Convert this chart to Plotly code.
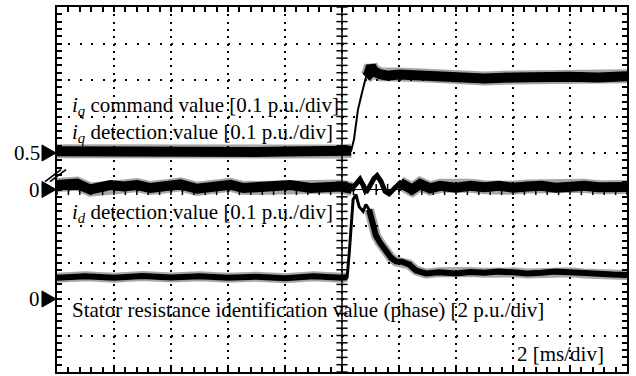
import numpy as np
import plotly.graph_objects as go

# ---------------- data (time in ms from screen centre, values in screen divisions) -------------
iq_t = [-10, -9, -8, -7, -6, -5, -4, -3, -2, -1, 0, 0.32, 0.42, 0.56, 0.67, 0.77, 0.84, 0.92,
        1.02, 1.12, 1.33, 1.6, 2, 3, 4, 5, 6, 7, 8, 9, 10]
iq_div = [1.05, 1.04, 1.06, 1.03, 1.05, 1.04, 1.05, 1.03, 1.04, 1.05, 1.04, 1.06, 1.37, 2.19,
          2.55, 2.82, 3.08, 3.14, 3.38, 3.24, 3.16, 3.12, 3.15, 3.12, 3.06, 3.04, 3.07, 3.1, 3.09,
          3.07, 3.1]

id_t = [-10, -9.3, -8.83, -8.48, -8.13, -7.66, -7.19, -6.72, -6.25, -5.67, -5.09, -4.5, -3.92,
        -3.46, -2.98, -2.51, -1.81, -1.11, -0.64, -0.06, 0.35, 0.53, 0.63, 0.74, 0.84, 0.98,
        1.12, 1.23, 1.37, 1.51, 1.65, 1.86, 2.04, 2.25, 2.46, 2.74, 3.09, 3.44, 4, 4.5, 5, 5.5,
        6, 6.5, 7, 7.5, 8, 8.5, 9, 9.5, 10]
id_div = [0.12, 0.16, 0.0, 0.04, 0.12, 0.08, 0.12, 0.04, 0.08, 0.14, 0.02, 0.05, 0.13, 0.04,
          0.05, 0.1, 0.12, 0.04, 0.08, 0.08, 0.02, 0.2, 0.28, 0.12, -0.08, 0.1, 0.3, 0.38, 0.22,
          -0.05, -0.12, 0.05, 0.18, 0.08, 0.0, 0.15, 0.03, 0.1, 0.05, 0.1, 0.06, 0.1, 0.05,
          0.08, 0.1, 0.05, 0.08, 0.1, 0.06, 0.09, 0.07]

rs_t = [-10, -9, -8, -7, -6, -5, -4, -3, -2, -1, 0, 0.18, 0.25, 0.32, 0.39, 0.49, 0.6, 0.74,
        0.84, 0.95, 1.05, 1.19, 1.33, 1.54, 1.72, 1.89, 2.1, 2.35, 2.6, 2.95, 3.4, 4, 4.5, 5,
        5.5, 6, 6.5, 7, 7.5, 8, 8.5, 9, 9.5, 10]
rs_div = [-2.42, -2.38, -2.42, -2.37, -2.41, -2.38, -2.42, -2.39, -2.43, -2.38, -2.42, -2.4,
          -1.78, -0.96, -0.27, -0.14, -0.47, -0.6, -0.41, -0.55, -0.88, -1.26, -1.45, -1.7,
          -1.87, -1.97, -1.98, -2.05, -2.22, -2.3, -2.27, -2.3, -2.26, -2.28, -2.25, -2.27,
          -2.3, -2.28, -2.25, -2.27, -2.3, -2.31, -2.33, -2.34]

# channel reference markers (label, level in divisions)
ref_labels = ["0.5", "0", "0"]
ref_levels = [1.0, 0.0, -3.0]

FONT = "Liberation Serif, Times New Roman, serif"
Y0, Y1 = -5, 5

fig = go.Figure()


def add_trace(t, y, band_w, core_w, keep):
    band = [v if keep(tt) else None for tt, v in zip(t, y)]
    fig.add_trace(go.Scatter(x=t, y=band, mode="lines", connectgaps=False,
                             line=dict(color="rgba(0,0,0,0.35)", width=band_w + 4),
                             hoverinfo="skip", showlegend=False))
    fig.add_trace(go.Scatter(x=t, y=band, mode="lines", connectgaps=False,
                             line=dict(color="black", width=band_w),
                             hoverinfo="skip", showlegend=False))
    fig.add_trace(go.Scatter(x=t, y=y, mode="lines",
                             line=dict(color="black", width=core_w),
                             hoverinfo="skip", showlegend=False))


# centre graticule lines with small cross ticks
fig.add_shape(type="line", x0=0, x1=0, y0=-5, y1=5, line=dict(color="black", width=1.5), layer="below")
fig.add_shape(type="line", x0=-10, x1=10, y0=0, y1=0, line=dict(color="black", width=1.2), layer="below")
vt = np.arange(-5, 5.001, 0.2)
ht = np.arange(-10, 10.001, 0.4)
fig.add_trace(go.Scatter(x=np.zeros_like(vt), y=vt, mode="markers",
                         marker=dict(symbol="line-ew", size=8, line=dict(color="black", width=1.5)),
                         hoverinfo="skip", showlegend=False))
fig.add_trace(go.Scatter(x=ht, y=np.zeros_like(ht), mode="markers",
                         marker=dict(symbol="line-ns", size=8, line=dict(color="black", width=1.5)),
                         hoverinfo="skip", showlegend=False))

add_trace(iq_t, iq_div, 10, 2, lambda tt: tt <= 0.32 or tt >= 0.84)
add_trace(id_t, id_div, 10, 5, lambda tt: tt <= 0.35 or tt >= 2.0)
add_trace(rs_t, rs_div, 6, 3, lambda tt: tt <= 0.18 or tt >= 0.95)


def py(level):
    return (level - Y0) / (Y1 - Y0)


# reference markers on the left edge
for lab, lev in zip(ref_labels, ref_levels):
    fig.add_shape(type="path", xref="paper", yref="paper", xsizemode="pixel", ysizemode="pixel",
                  xanchor=0, yanchor=py(lev), path="M -15,-8 L -1,0 L -15,8 Z",
                  fillcolor="black", line=dict(color="black", width=1))
    fig.add_annotation(x=0, y=py(lev), xref="paper", yref="paper", text=lab, showarrow=False,
                       xanchor="right", yanchor="middle", xshift=-15,
                       font=dict(family=FONT, size=21, color="black"))

# axis-break mark "//"
for dx in (0, 5):
    fig.add_shape(type="path", xref="paper", yref="paper", xsizemode="pixel", ysizemode="pixel",
                  xanchor=0, yanchor=py(0.38), path=f"M {-12+dx},-6 L {4+dx},6",
                  line=dict(color="black", width=1.8))

texts = [
    ("<i>i</i><sub><i>q</i></sub> command value [0.1 p.u./div]", 0.0228, 0.728, "left"),
    ("<i>i</i><sub><i>q</i></sub> detection value [0.1 p.u./div]", 0.0228, 0.655, "left"),
    ("<i>i</i><sub><i>d</i></sub> detection value [0.1 p.u./div]", 0.0228, 0.436, "left"),
    ("Stator resistance identification value (phase) [2 p.u./div]", 0.0228, 0.170, "left"),
    ("2 [ms/div]", 0.963, 0.049, "right"),
]
for txt, x, y, anc in texts:
    fig.add_annotation(x=x, y=y, xref="paper", yref="paper", text=txt, showarrow=False,
                       xanchor=anc, yanchor="middle",
                       font=dict(family=FONT, size=21, color="black"))

fig.update_layout(
    width=636, height=376,
    margin=dict(l=57, r=9, t=7, b=4),
    paper_bgcolor="white", plot_bgcolor="white",
    showlegend=False,
    xaxis=dict(range=[-10, 10], showticklabels=False, zeroline=False,
               showline=True, linecolor="black", linewidth=2, mirror="allticks",
               ticks="inside", ticklen=5, tickwidth=1.5, tickcolor="black", dtick=2, tick0=-10,
               showgrid=True, gridcolor="black", gridwidth=2, griddash="2px,5.3px",
               minor=dict(dtick=0.4, ticks="inside", ticklen=5, tickwidth=1.5,
                          tickcolor="black", showgrid=False)),
    yaxis=dict(range=[Y0, Y1], showticklabels=False, zeroline=False,
               showline=True, linecolor="black", linewidth=2, mirror="allticks",
               ticks="inside", ticklen=5, tickwidth=1.5, tickcolor="black", dtick=1, tick0=-5,
               showgrid=True, gridcolor="black", gridwidth=2, griddash="2px,9.4px",
               minor=dict(dtick=0.2, ticks="inside", ticklen=5, tickwidth=1.5,
                          tickcolor="black", showgrid=False)),
)

fig.write_html("out.html")
